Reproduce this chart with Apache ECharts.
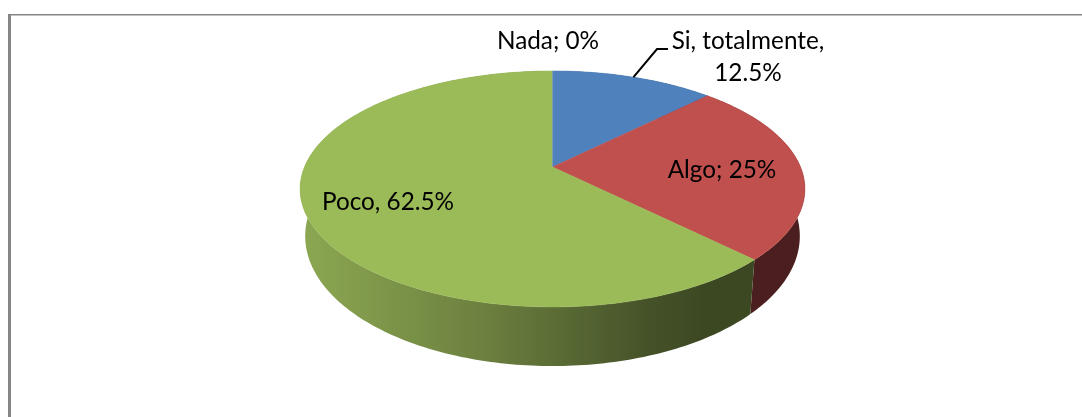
<!DOCTYPE html>
<html><head><meta charset="utf-8">
<style>html,body{margin:0;padding:0;background:#fff}#c{width:1082px;height:417px}</style>
<script src="https://cdn.jsdelivr.net/npm/echarts@6/dist/echarts.min.js"></script>
</head><body><div id="c"></div>
<script>
const categories = ['Si, totalmente', 'Algo', 'Poco', 'Nada'];
const values = [12.5, 25, 62.5, 0];
const labels = ['Si, totalmente,\n12.5%', 'Algo; 25%', 'Poco, 62.5%', 'Nada; 0%'];
const faceColors = ['#4F81BD', '#C0504D', '#9BBB59', '#8064A2'];
const labelPos = [[748, 41], [722, 170], [388, 202], [548, 41]];
const FONT = 'Lato';
const FS = 24.3;

// perspective projection of the pie's two discs
const top_ = {cx: 552.5, cy: 167, A: 248, B: 113.9, k: 0.186};
const bot = {cx: 552.5, cy: 212, A: 243, B: 125.4, k: 0.186};
function rim(d, deg) {
  const t = deg * Math.PI / 180, u = Math.sin(t), v = -Math.cos(t), w = 1 - d.k * v;
  return [d.cx + d.A * u / w, d.cy + d.B * v / w];
}
function arc(d, a, b) {
  const n = Math.max(2, Math.ceil(Math.abs(b - a))), out = [];
  for (let i = 0; i <= n; i++) out.push(rim(d, a + (b - a) * i / n));
  return out;
}
const total = values.reduce((s, v) => s + v, 0);
function span(i) {
  let s = 0;
  for (let j = 0; j < i; j++) s += values[j];
  return [s / total * 360, (s + values[i]) / total * 360];
}
const sideFill = [
  '#2f4a6e',
  '#4B1F1F',
  {type: 'linear', x: 300, y: 0, x2: 760, y2: 0, global: true, colorStops: [
    {offset: 0, color: '#8CA852'}, {offset: 0.4, color: '#6C803F'},
    {offset: 0.75, color: '#465329'}, {offset: 0.88, color: '#3C4822'}, {offset: 1, color: '#3C4822'}]},
  '#4d3c63'
];
const idx = categories.map((c, i) => [i, values[i]]);

const option = {
  animation: false,
  backgroundColor: '#fff',
  graphic: [
    {type: 'rect', silent: true, shape: {x: 8, y: 14, width: 1074, height: 1.4}, style: {fill: '#868686'}},
    {type: 'rect', silent: true, shape: {x: 8, y: 14, width: 3, height: 403}, style: {fill: '#868686'}}
  ],
  series: [
    {type: 'custom', coordinateSystem: 'none', z: 1, silent: true, data: idx,
     renderItem(p, api) {
       const i = api.value(0), [a, b] = span(i);
       if (b - a <= 0) return {type: 'group', children: []};
       const pts = arc(top_, a, b).concat(arc(bot, a, b).reverse());
       return {type: 'polygon', shape: {points: pts}, style: {fill: sideFill[i], stroke: null}};
     }},
    {type: 'custom', coordinateSystem: 'none', z: 2, silent: true, data: idx,
     renderItem(p, api) {
       const i = api.value(0), [a, b] = span(i);
       const pts = [[top_.cx, top_.cy]].concat(arc(top_, a, b));
       return {type: 'polygon', shape: {points: pts},
               style: {fill: faceColors[i], stroke: b - a > 0 ? faceColors[i] : '#7f9fa8', lineWidth: b - a > 0 ? 0.5 : 1}};
     }},
    {type: 'custom', coordinateSystem: 'none', z: 3, silent: true, data: idx,
     renderItem(p, api) {
       const i = api.value(0), [a, b] = span(i), kids = [];
       kids.push({type: 'text', style: {text: labels[i], x: labelPos[i][0], y: labelPos[i][1] + (i === 0 ? 16 : 0),
         fill: '#000', font: FS + 'px ' + FONT, align: 'center', verticalAlign: 'middle', lineHeight: 32}});
       if (i === 0) {
         kids.push({type: 'polyline', shape: {points: [rim(top_, (a + b) / 2), [657, 49], [668, 49]]},
           style: {stroke: '#000', lineWidth: 2, fill: null}});
       }
       return {type: 'group', children: kids};
     }}
  ]
};
echarts.init(document.getElementById('c'), null, {renderer: 'canvas'}).setOption(option);
</script></body></html>
